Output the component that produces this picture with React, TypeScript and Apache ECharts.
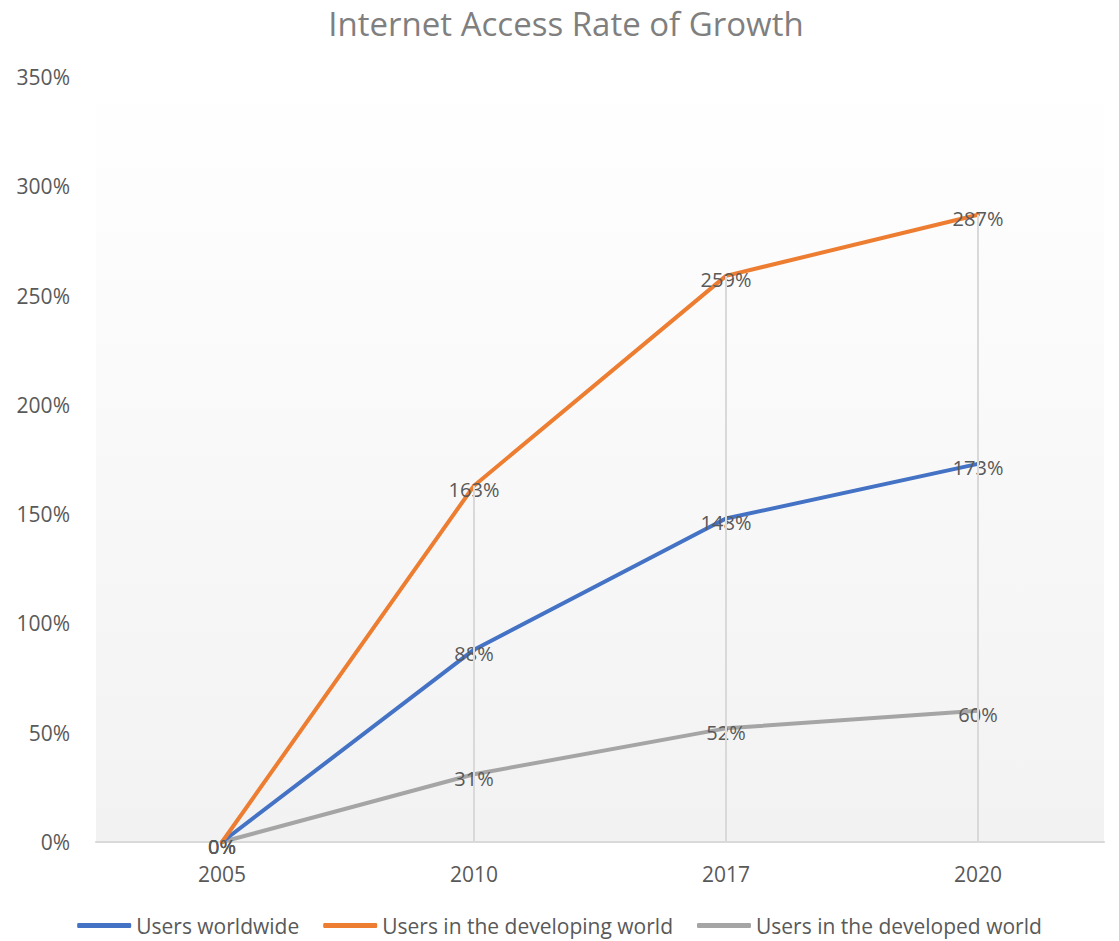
import React, { useEffect, useRef } from "react";
import * as echarts from "echarts";

const categories = ["2005", "2010", "2017", "2020"];
const worldwide = [0, 88, 148, 173];
const developing = [0, 163, 259, 287];
const developed = [0, 31, 52, 60];
const seriesNames = ["Users worldwide", "Users in the developing world", "Users in the developed world"];
const colors = ["#4472C4", "#ED7D31", "#A5A5A5"];

const FONT = "'Open Sans', sans-serif";

export default function App() {
  const ref = useRef<HTMLDivElement>(null);
  useEffect(() => {
    document.body.style.margin = "0";
    const chart = echarts.init(ref.current!, null, { renderer: "svg" });
    const allSeries = [worldwide, developing, developed];
    const dropData = categories
      .map((c, i) => {
        const mx = Math.max(...allSeries.map((s) => s[i]));
        return [{ coord: [i, mx] }, { coord: [i, 0] }];
      })
      .filter((d) => (d[0].coord[1] as number) > 0);

    const mkSeries = (name: string, data: number[], color: string, z: number) => ({
      name,
      type: "line",
      data,
      z,
      symbol: "circle",
      symbolSize: 0.01,
      itemStyle: { color },
      lineStyle: { color, width: 4, cap: "round", join: "round" },
      label: {
        show: true,
        position: "inside",
        offset: [0, 4],
        formatter: "{c}%",
        color: "#595959",
        fontSize: 20,
        fontFamily: FONT,
      },
      emphasis: { disabled: true },
    });

    chart.setOption({
      animation: false,
      backgroundColor: "#ffffff",
      color: colors,
      title: {
        text: "Internet Access Rate of Growth",
        left: 566,
        textAlign: "center",
        top: 5,
        padding: 0,
        textStyle: { color: "#7f7f7f", fontSize: 33, lineHeight: 36, fontWeight: "normal", fontFamily: FONT },
      },
      grid: {
        left: 96,
        right: 15,
        top: 77,
        bottom: 99,
        show: true,
        borderWidth: 0,
        backgroundColor: new echarts.graphic.LinearGradient(0, 0, 0, 1, [
          { offset: 0, color: "#ffffff" },
          { offset: 1, color: "#f2f2f2" },
        ]),
      },
      legend: {
        bottom: 0,
        left: "center",
        icon: "roundRect",
        itemWidth: 54,
        itemHeight: 5,
        itemGap: 24,
        textStyle: { color: "#595959", fontSize: 21, fontFamily: FONT },
        data: seriesNames.map((n, i) => ({ name: n, itemStyle: { color: colors[i], opacity: 1 } })),
      },
      xAxis: {
        type: "category",
        data: categories,
        boundaryGap: true,
        axisLine: { show: true, lineStyle: { color: "#d9d9d9", width: 2 } },
        axisTick: { show: false },
        splitLine: { show: false },
        axisLabel: { color: "#595959", fontSize: 21, fontFamily: FONT, margin: 21 },
      },
      yAxis: {
        type: "value",
        min: 0,
        max: 350,
        interval: 50,
        axisLine: { show: false },
        axisTick: { show: false },
        splitLine: { show: false },
        axisLabel: { color: "#595959", fontSize: 21, fontFamily: FONT, formatter: "{value}%", margin: 26 },
      },
      series: [
        {
          name: "drop",
          type: "line",
          data: [],
          z: 1,
          silent: true,
          markLine: {
            silent: true,
            symbol: "none",
            label: { show: false },
            lineStyle: { color: "#d9d9d9", width: 2, type: "solid" },
            data: dropData,
          },
        },
        mkSeries(seriesNames[0], worldwide, colors[0], 3),
        mkSeries(seriesNames[1], developing, colors[1], 4),
        mkSeries(seriesNames[2], developed, colors[2], 2),
      ],
    });
    return () => chart.dispose();
  }, []);
  return <div ref={ref} style={{ width: 1119, height: 941 }} />;
}
